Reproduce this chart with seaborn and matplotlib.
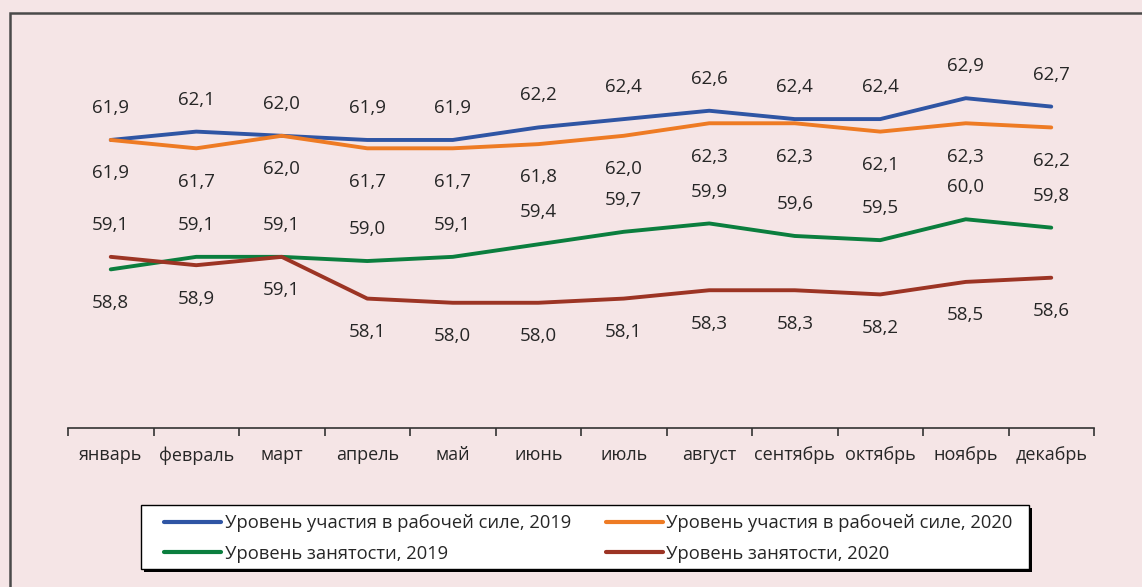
import numpy as np
import pandas as pd
import seaborn as sns
import matplotlib.pyplot as plt
from matplotlib.patches import Rectangle

# Data
months = ['январь', 'февраль', 'март', 'апрель', 'май', 'июнь',
          'июль', 'август', 'сентябрь', 'октябрь', 'ноябрь', 'декабрь']
participation_2019 = [61.9, 62.1, 62.0, 61.9, 61.9, 62.2, 62.4, 62.6, 62.4, 62.4, 62.9, 62.7]
participation_2020 = [61.9, 61.7, 62.0, 61.7, 61.7, 61.8, 62.0, 62.3, 62.3, 62.1, 62.3, 62.2]
employment_2019 = [58.8, 59.1, 59.1, 59.0, 59.1, 59.4, 59.7, 59.9, 59.6, 59.5, 60.0, 59.8]
employment_2020 = [59.1, 58.9, 59.1, 58.1, 58.0, 58.0, 58.1, 58.3, 58.3, 58.2, 58.5, 58.6]

series_names = ['Уровень участия в рабочей силе, 2019',
                'Уровень участия в рабочей силе, 2020',
                'Уровень занятости, 2019',
                'Уровень занятости, 2020']
series_values = [participation_2019, participation_2020, employment_2019, employment_2020]
colors = ['#2F55A4', '#EE7B24', '#0B7E3E', '#9C3424']

bg = '#F5E5E6'
W, H = 1142, 587

sns.set_style('white')
plt.rcParams['font.family'] = ['Open Sans', 'DejaVu Sans']

# long form table for seaborn
rows = []
for name, vals in zip(series_names, series_values):
    for i, v in enumerate(vals):
        rows.append({'month': i, 'value': v, 'series': name})
df = pd.DataFrame(rows)

fig = plt.figure(figsize=(W / 100, H / 100), dpi=100, facecolor=bg)
ax = fig.add_axes([68 / W, 1 - 428 / H, (1094 - 68) / W, (428 - 52.3) / H])
ax.set_facecolor(bg)

sns.lineplot(data=df, x='month', y='value', hue='series', hue_order=series_names,
             palette=colors, linewidth=2.8, sort=False, ax=ax, legend=False)

ax.set_xlim(-0.5, 11.5)
ax.set_ylim(55, 64)
ax.set_xlabel('')
ax.set_ylabel('')
ax.set_yticks([])

# ticks at category boundaries, labels at centers
ax.set_xticks(np.arange(-0.5, 12, 1))
ax.set_xticklabels([])
ax.set_xticks(np.arange(12), minor=True)
ax.set_xticklabels(months, minor=True, fontsize=13)
ax.tick_params(axis='x', which='major', direction='out', length=6, width=1.2, color='#333333', bottom=True)
ax.tick_params(axis='x', which='minor', length=0, pad=13)

for s in ['top', 'right', 'left']:
    ax.spines[s].set_visible(False)
ax.spines['bottom'].set_color('#333333')
ax.spines['bottom'].set_linewidth(1.2)


def label_pair(first_vals, second_vals):
    # higher value labelled above, lower below (tie -> first series above)
    for i, (a, b) in enumerate(zip(first_vals, second_vals)):
        if b > a:
            top, bot = b, a
        else:
            top, bot = a, b
        ax.annotate(f'{top:.1f}'.replace('.', ','), (i, top), xytext=(0, 23),
                    textcoords='offset points', ha='center', va='center', fontsize=13.5)
        ax.annotate(f'{bot:.1f}'.replace('.', ','), (i, bot), xytext=(0, -24),
                    textcoords='offset points', ha='center', va='center', fontsize=13.5)


label_pair(participation_2019, participation_2020)
label_pair(employment_2019, employment_2020)

# legend box drawn by hand (wider side padding than matplotlib allows), with shadow
lx0, lx1, ly0, ly1 = 141, 1029, 505, 569
fig.patches.append(Rectangle(((lx0 + 3) / W, 1 - (ly1 + 3) / H), (lx1 - lx0) / W, (ly1 - ly0) / H,
                             transform=fig.transFigure, facecolor='black', edgecolor='none', zorder=5))
fig.patches.append(Rectangle((lx0 / W, 1 - ly1 / H), (lx1 - lx0) / W, (ly1 - ly0) / H,
                             transform=fig.transFigure, facecolor='white', edgecolor='black',
                             linewidth=1.0, zorder=6))

# legend, filled row by row (matplotlib fills columns first)
handles = [plt.Line2D([], [], color=c, linewidth=3) for c in colors]
order = [0, 2, 1, 3]
leg = fig.legend([handles[k] for k in order], [series_names[k] for k in order], ncol=2, loc='center',
                 bbox_to_anchor=((lx0 + lx1) / 2 / W + 3.5 / W, 1 - ((ly0 + ly1) / 2 + 1.5) / H),
                 fontsize=13.2, frameon=False, handlelength=3.1, handletextpad=0.2, columnspacing=1.9,
                 borderpad=0, borderaxespad=0, labelspacing=0.66)
leg.set_zorder(7)

# chart frame
fig.patches.append(Rectangle((10 / W, -0.1), 1.2, 1.1 - 13 / H, transform=fig.transFigure,
                             fill=False, edgecolor='#4A4A4A', linewidth=1.8))

fig.savefig('out.png', dpi=100, facecolor=bg)
